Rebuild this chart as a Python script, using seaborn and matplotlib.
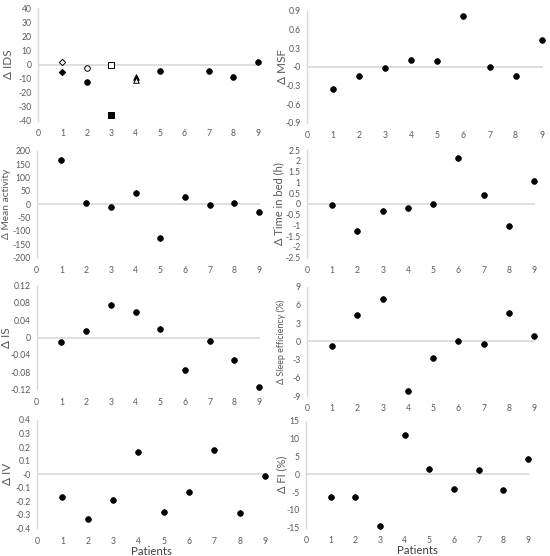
import matplotlib
matplotlib.use('Agg')
import matplotlib.pyplot as plt
import matplotlib.transforms as mtransforms
import numpy as np
import pandas as pd
import seaborn as sns

sns.set_theme(style='white')
plt.rcParams['font.family'] = ['Lato', 'DejaVu Sans']

# данные: изменения по пациентам
patients = [1, 2, 3, 4, 5, 6, 7, 8, 9]

ids_patients = [2, 5, 7, 8, 9]
ids_values = [-12.5, -4.5, -4.5, -8.5, 2]
ids_extra_patients = [1, 1, 2, 3, 3, 4, 4]
ids_extra_values = [2, -5, -2.5, 0, -36, -8.5, -11]
ids_extra_kind = ['diamond open', 'diamond filled', 'circle open', 'square open',
                  'square filled', 'triangle filled', 'triangle open']

msf = [-0.35, -0.14, -0.02, 0.11, 0.09, 0.82, 0.0, -0.15, 0.44]
mean_activity = [165, 3, -10, 42, -128, 27, -3, 4, -30]
time_in_bed = [-0.05, -1.25, -0.35, -0.2, 0.0, 2.12, 0.4, -1.02, 1.05]
is_values = [-0.01, 0.014, 0.075, 0.059, 0.02, -0.075, -0.009, -0.053, -0.115]
sleep_eff = [-0.8, 4.4, 6.9, -8.2, -2.8, 0.0, -0.5, 4.7, 0.9]
iv_values = [-0.17, -0.33, -0.19, 0.16, -0.28, -0.135, 0.18, -0.29, -0.01]
fi_values = [-6.3, -6.3, -14.6, 11.0, 1.6, -4.0, 1.3, -4.4, 4.4]

W, H = 550, 556
GRAY = '#595959'
LINE = '#d9d9d9'

marker_map = {
    'diamond open': ('D', 'white', 3.2),
    'diamond filled': ('D', 'black', 3.2),
    'circle open': ('o', 'white', 4.0),
    'square open': ('s', 'white', 3.8),
    'square filled': ('s', 'black', 3.8),
    'triangle filled': ('^', 'black', 4.0),
    'triangle open': ('^', 'white', 4.0),
}

fig = plt.figure(figsize=(W / 100, H / 100), dpi=100)


def make_ax(x0, x9, ytop, ybot):
    # x0 - пиксель нуля, x9 - пиксель девятки
    unit = (x9 - x0) / 9
    x1 = x0 + 9.05 * unit
    return fig.add_axes([x0 / W, 1 - ybot / H, (x1 - x0) / W, (ybot - ytop) / H])


def style_ax(ax, ylim, yticks, ylabel, fmt, label_x, label_size=8.5, xlabel=None):
    ax.set_xlim(0, 9.05)
    ax.set_ylim(*ylim)
    ax.set_yticks(yticks)
    ax.set_yticklabels([fmt(v) for v in yticks])
    ax.set_xticks(range(10))
    ax.set_xticklabels([str(i) for i in range(10)])
    ax.axhline(0, color=LINE, lw=1.2, zorder=1)
    for side in ['top', 'right', 'bottom']:
        ax.spines[side].set_visible(False)
    ax.spines['left'].set_color(LINE)
    ax.spines['left'].set_linewidth(1.0)
    ax.tick_params(axis='both', length=0, labelsize=6.2, labelcolor=GRAY)
    ax.tick_params(axis='y', pad=4.5)
    ax.tick_params(axis='x', pad=6)
    ax.set_ylabel(ylabel, fontsize=label_size, color=GRAY)
    ax.yaxis.label.set_verticalalignment('center')
    trans = mtransforms.blended_transform_factory(fig.transFigure, ax.transAxes)
    ax.yaxis.set_label_coords(label_x / W, 0.5, transform=trans)
    if xlabel:
        ax.set_xlabel(xlabel, fontsize=8.3, color='#404040', labelpad=0)
    else:
        ax.set_xlabel('')
    ax.grid(False)
    ax.set_facecolor('none')
    for coll in ax.collections:
        coll.set_clip_on(False)


def dots(ax, y):
    df = pd.DataFrame({'patient': patients, 'value': y})
    sns.scatterplot(data=df, x='patient', y='value', ax=ax, color='black',
                    s=17, edgecolor='black', linewidth=0.5, zorder=3)


def num(v):
    return f'{v:g}'


# Δ IDS
ax = make_ax(38, 257.7, 8, 121)
df_ids = pd.DataFrame({'patient': ids_patients, 'value': ids_values})
sns.scatterplot(data=df_ids, x='patient', y='value', ax=ax, color='black',
                s=17, edgecolor='black', linewidth=0.5, zorder=3)
df_extra = pd.DataFrame({'patient': ids_extra_patients, 'value': ids_extra_values,
                         'kind': ids_extra_kind})
for kind, grp in df_extra.groupby('kind'):
    m, fc, ms = marker_map[kind]
    sns.scatterplot(data=grp, x='patient', y='value', ax=ax, marker=m,
                    s=ms ** 2, facecolor=fc, edgecolor='black', linewidth=0.7, zorder=3)
style_ax(ax, (-40, 40), np.arange(-40, 41, 10), 'Δ IDS', num, 8.5)

# Δ MSF
ax = make_ax(307, 541.7, 11, 122.7)
dots(ax, msf)
style_ax(ax, (-0.9, 0.9), np.round(np.arange(-0.9, 0.91, 0.3), 1), 'Δ MSF', num, 283)

# Δ Mean activity
ax = make_ax(36.7, 259, 150.7, 257.7)
dots(ax, mean_activity)
style_ax(ax, (-200, 200), np.arange(-200, 201, 50), 'Δ Mean activity', num, 6.5, label_size=7.3)

# Δ Time in bed
ax = make_ax(307, 534, 150, 257.7)
dots(ax, time_in_bed)
style_ax(ax, (-2.5, 2.5), np.arange(-2.5, 2.51, 0.5), 'Δ Time in bed (h)', num, 279, label_size=8)

# Δ IS
ax = make_ax(36.7, 259, 285.7, 389.3)
dots(ax, is_values)
style_ax(ax, (-0.12, 0.12), np.round(np.arange(-0.12, 0.121, 0.04), 2), 'Δ IS', num, 7)

# Δ Sleep efficiency
ax = make_ax(307, 534, 286.7, 396)
dots(ax, sleep_eff)
style_ax(ax, (-9, 9), np.arange(-9, 10, 3), 'Δ Sleep efficiency (%)', num, 281, label_size=6.5)

# Δ IV
ax = make_ax(37, 265, 420, 528.3)
dots(ax, iv_values)
style_ax(ax, (-0.4, 0.4), np.round(np.arange(-0.4, 0.41, 0.1), 1), 'Δ IV', num, 7.5,
         xlabel='Patients')

# Δ FI
ax = make_ax(306, 528, 421, 527.7)
dots(ax, fi_values)
style_ax(ax, (-15, 15), np.arange(-15, 16, 5), 'Δ FI (%)', num, 282, label_size=8,
         xlabel='Patients')

fig.savefig('out.png', dpi=100)
